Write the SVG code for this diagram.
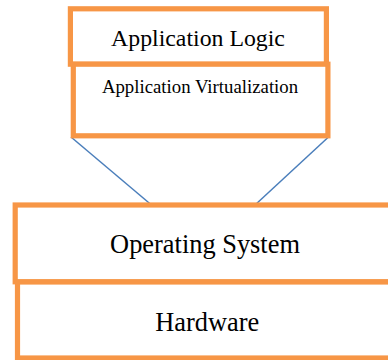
<svg xmlns="http://www.w3.org/2000/svg" width="388" height="360" viewBox="0 0 388 360">
<style>
.box{fill:#FFFFFF;stroke:#F79646;stroke-width:5.2}
.lbl{font-family:"Liberation Serif","Times New Roman",serif;fill:#000000;text-anchor:middle}
.conn{stroke:#4A7EBB;stroke-width:1.5;fill:none}
</style>
<rect x="0" y="0" width="388" height="360" fill="#FFFFFF"/>
<g id="connectors">
<line class="conn" x1="71" y1="137" x2="151.5" y2="205"/>
<line class="conn" x1="328.5" y1="137" x2="255" y2="205"/>
</g>
<g id="node-app-logic">
<rect class="box" x="70.4" y="8.8" width="256" height="55.4"/>
<text class="lbl" x="198" y="46" font-size="23.8">Application Logic</text>
</g>
<g id="node-app-virt">
<rect class="box" x="73.3" y="64.2" width="254.6" height="71.6"/>
<text class="lbl" x="200" y="92.7" font-size="18.8">Application Virtualization</text>
</g>
<g id="node-os">
<rect class="box" x="15.2" y="205" width="400" height="76.8"/>
<text class="lbl" x="205" y="253.3" font-size="26.4">Operating System</text>
</g>
<g id="node-hw">
<rect class="box" x="17.5" y="282" width="400" height="76"/>
<text class="lbl" x="207.3" y="331" font-size="26.4">Hardware</text>
</g>
</svg>
